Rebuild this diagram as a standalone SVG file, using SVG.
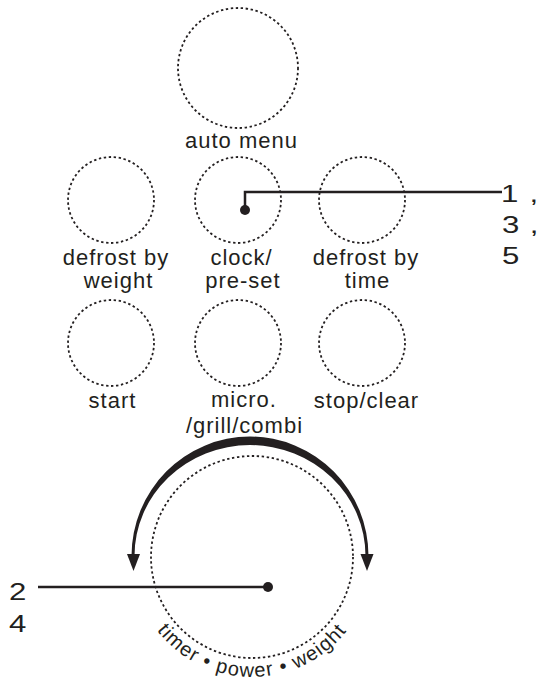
<svg xmlns="http://www.w3.org/2000/svg" width="538" height="680" viewBox="0 0 538 680">
<style>
.btn{fill:none;stroke:#231f20;stroke-width:1.8;stroke-dasharray:2.4 2.6}
.lbl{font-family:"Liberation Sans",Arial,sans-serif;font-size:22px;fill:#231f20;text-anchor:middle;letter-spacing:1px}
.num{font-family:"Liberation Sans",Arial,sans-serif;font-size:24px;fill:#231f20}
.conn{fill:none;stroke:#231f20;stroke-width:2.5}
.dot{fill:#231f20}
.arc{fill:#231f20}
.ring{font-family:"Liberation Sans",Arial,sans-serif;font-size:20px;fill:#231f20;letter-spacing:1.2px}
</style>
<defs>
<path id="ringPath" d="M 132 557 A 120 120 0 0 0 372 557"/>
</defs>
<rect width="538" height="680" fill="#ffffff"/>

<g id="auto-menu">
<circle class="btn" cx="238" cy="68" r="60"/>
<text class="lbl" x="241.5" y="148">auto menu</text>
</g>

<g id="defrost-by-weight">
<circle class="btn" cx="111" cy="200" r="43"/>
<text class="lbl" x="116" y="265">defrost by</text>
<text class="lbl" x="118.5" y="288">weight</text>
</g>

<g id="clock-pre-set">
<circle class="btn" cx="238" cy="200" r="43"/>
<text class="lbl" x="241.5" y="265">clock/</text>
<text class="lbl" x="243" y="288">pre-set</text>
</g>

<g id="defrost-by-time">
<circle class="btn" cx="362" cy="200" r="43"/>
<text class="lbl" x="366" y="265">defrost by</text>
<text class="lbl" x="367.5" y="288">time</text>
</g>

<g id="start">
<circle class="btn" cx="111" cy="343" r="43"/>
<text class="lbl" x="112.5" y="408">start</text>
</g>

<g id="micro-grill-combi">
<circle class="btn" cx="238" cy="343" r="43"/>
<text class="lbl" x="244" y="407">micro.</text>
<text class="lbl" x="244.5" y="433">/grill/combi</text>
</g>

<g id="stop-clear">
<circle class="btn" cx="362" cy="343" r="43"/>
<text class="lbl" x="366.5" y="408">stop/clear</text>
</g>

<g id="dial">
<circle class="btn" cx="252" cy="557" r="101"/>
<path class="arc" d="M 131.5 556 A 118.5 119.5 0 0 1 368.5 556 L 365.5 556 A 115.5 111 0 0 0 134.5 556 Z"/>
<polygon class="arc" points="127,554 140,554 133.5,571"/>
<polygon class="arc" points="360.5,554 373.5,554 367,571"/>
<text class="ring"><textPath href="#ringPath" startOffset="50%" text-anchor="middle">timer • power • weight</textPath></text>
</g>

<g id="connectors">
<polyline class="conn" points="245,210 245,192 502,192"/>
<circle class="dot" cx="245" cy="210" r="5"/>
<line class="conn" x1="38" y1="587" x2="268" y2="587"/>
<circle class="dot" cx="268" cy="587" r="5"/>
</g>

<g id="callout-1-3-5">
<text class="num" transform="translate(501,202) scale(1.3,1)">1 <tspan x="22">,</tspan></text>
<text class="num" transform="translate(502,233) scale(1.3,1)">3 <tspan x="21.3">,</tspan></text>
<text class="num" transform="translate(502,264) scale(1.3,1)">5</text>
</g>

<g id="callout-2-4">
<text class="num" transform="translate(9,600) scale(1.3,1)">2</text>
<text class="num" transform="translate(9,632) scale(1.3,1)">4</text>
</g>
</svg>
